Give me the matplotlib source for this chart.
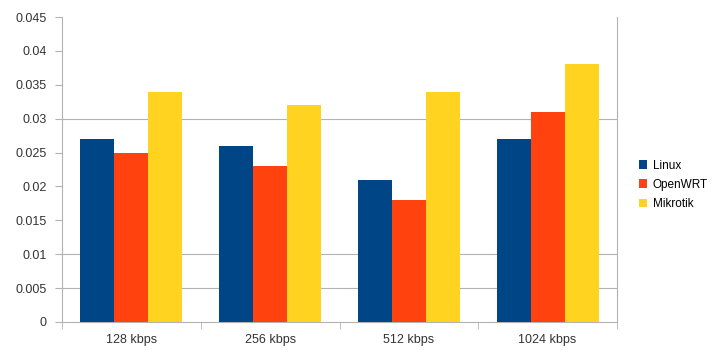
import matplotlib.pyplot as plt
import numpy as np

categories = ["128 kbps", "256 kbps", "512 kbps", "1024 kbps"]
series_names = ["Linux", "OpenWRT", "Mikrotik"]
linux = [0.027, 0.026, 0.021, 0.027]
openwrt = [0.025, 0.023, 0.018, 0.031]
mikrotik = [0.034, 0.032, 0.034, 0.038]
yticks = [0, 0.005, 0.01, 0.015, 0.02, 0.025, 0.03, 0.035, 0.04, 0.045]
# only these grid lines show in the reference
grid_levels = [0.005, 0.01, 0.03]
colors = ["#004586", "#ff420e", "#ffd320"]

plt.rcParams["font.family"] = ["Liberation Sans", "DejaVu Sans"]

fig = plt.figure(figsize=(7.12, 3.5), dpi=100)
ax = fig.add_axes([62 / 712, 28 / 350, 555 / 712, 305 / 350])

x = np.arange(len(categories))
w = 0.245
for i, (vals, name) in enumerate(zip([linux, openwrt, mikrotik], series_names)):
    ax.bar(x + (i - 1) * w, vals, w, color=colors[i], label=name, zorder=3)

for g in grid_levels:
    ax.axhline(g, color="#b3b3b3", linewidth=0.8, zorder=0)

ax.set_xlim(-0.5, len(categories) - 0.5)
ax.set_ylim(0, 0.045)
ax.set_yticks(yticks)
ax.set_yticklabels([f"{v:g}" for v in yticks])
ax.set_xticks(x)
ax.set_xticklabels(categories)
ax.set_xticks(np.arange(len(categories) + 1) - 0.5, minor=True)
ax.tick_params(axis="x", which="major", length=0, pad=9)
ax.tick_params(axis="x", which="minor", length=5, color="#b3b3b3")
ax.tick_params(axis="y", length=5, color="#b3b3b3", pad=6)
ax.tick_params(labelsize=9, labelcolor="#333333")

ax.spines["top"].set_visible(False)
for side in ["left", "right", "bottom"]:
    ax.spines[side].set_color("#b3b3b3")

ax.legend(loc="center left", bbox_to_anchor=(1.02, 0.45), frameon=False,
          fontsize=8.5, handlelength=0.7, handleheight=0.7, handletextpad=0.5,
          labelspacing=0.6)

fig.savefig("out.png", dpi=100)
